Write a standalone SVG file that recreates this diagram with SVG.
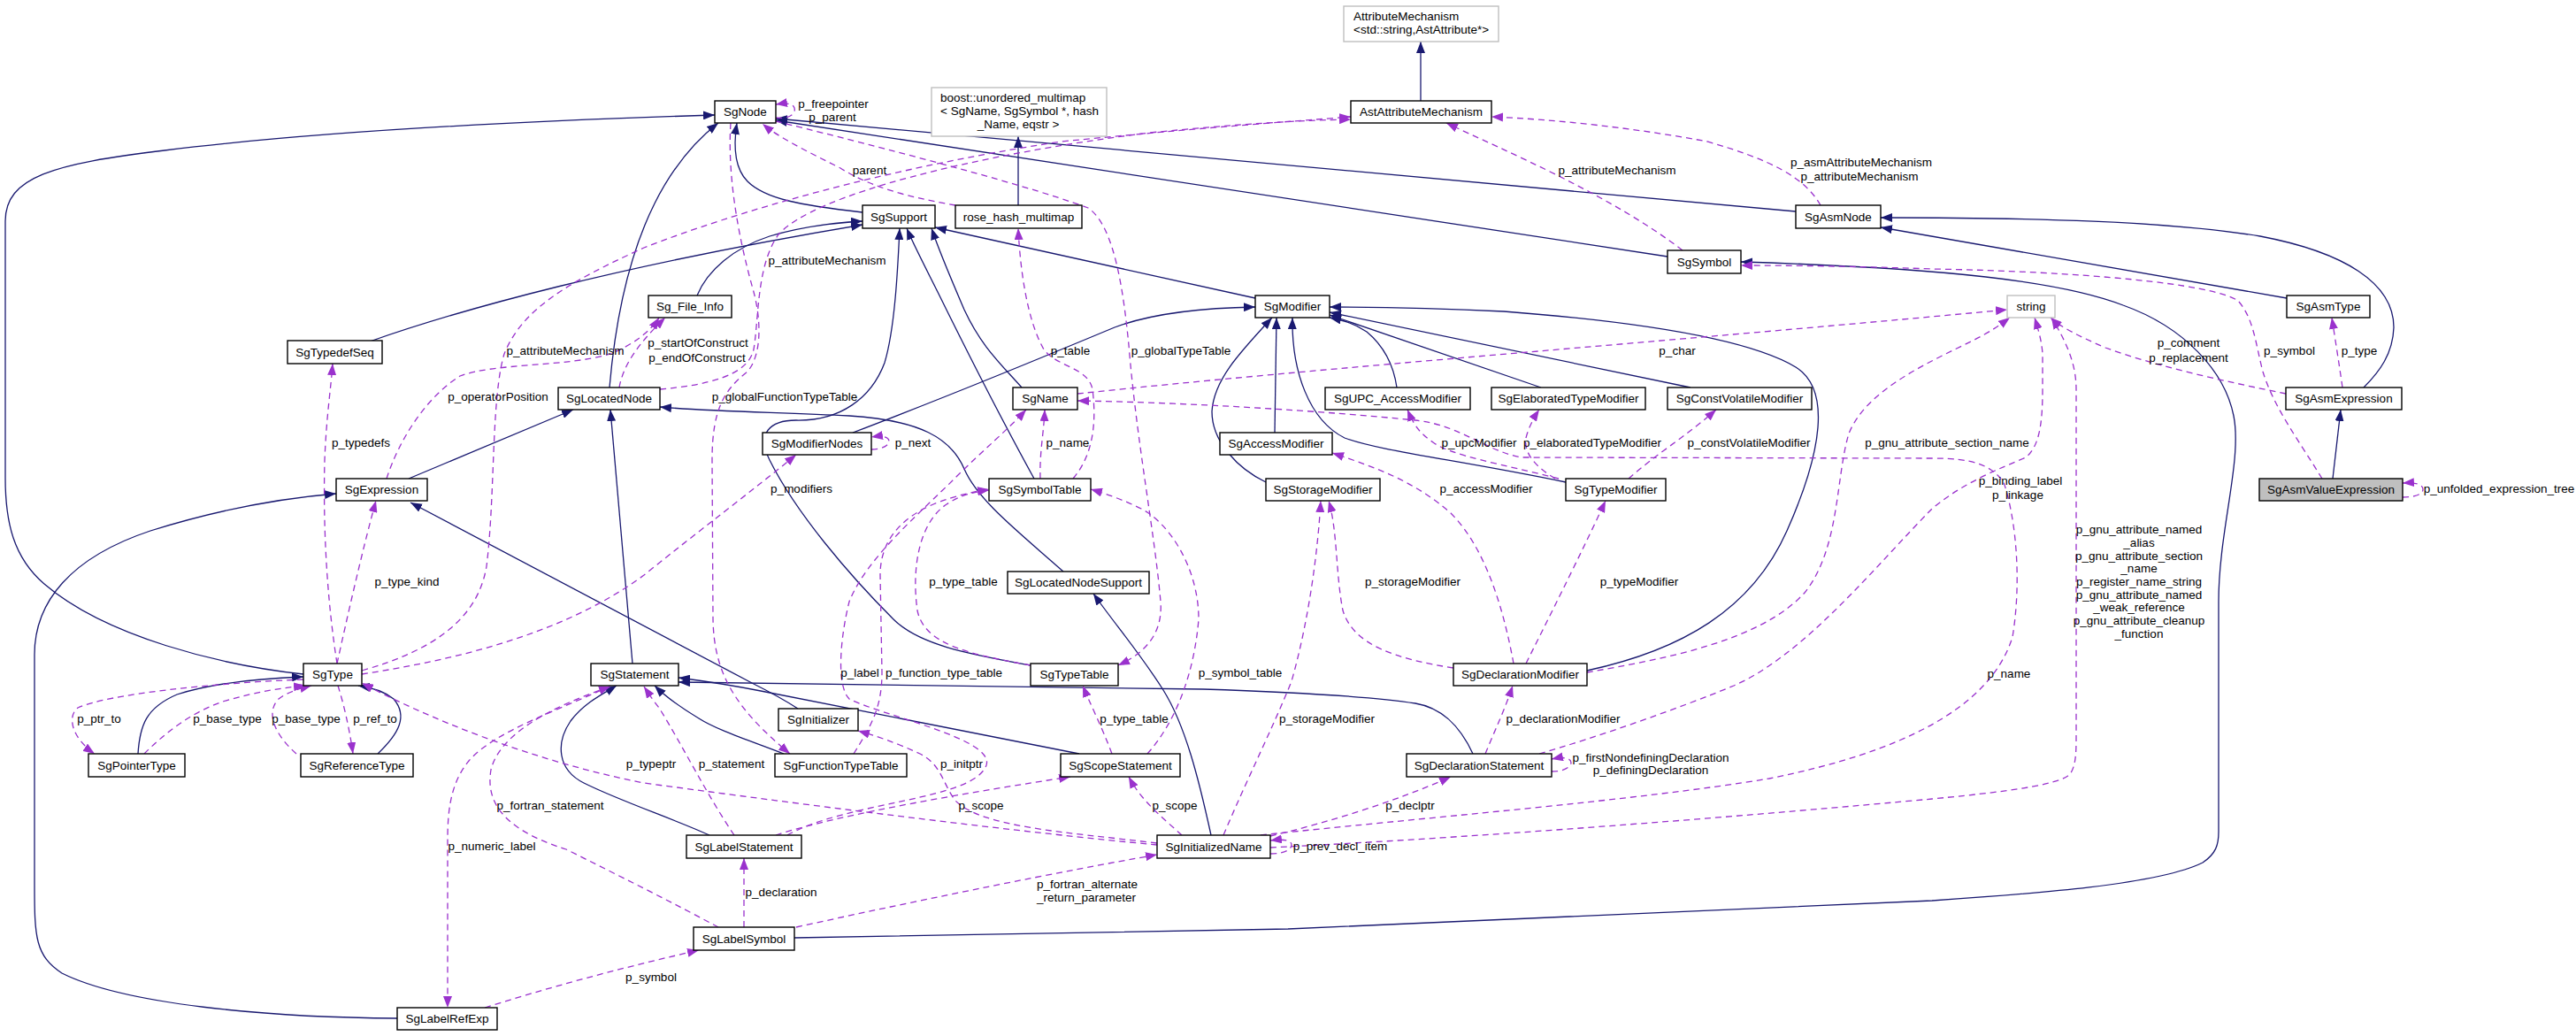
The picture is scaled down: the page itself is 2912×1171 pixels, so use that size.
<svg xmlns="http://www.w3.org/2000/svg" width="2912" height="1171" viewBox="0 0 2912 1171">
<style>
text{font-family:"Liberation Sans",Arial,sans-serif;font-size:13.5px;fill:#000}
.n rect{fill:#fff;stroke:#000;stroke-width:1.4}
.g rect{fill:#fff;stroke:#bfbfbf;stroke-width:1.4}
.h rect{fill:#bfbfbf;stroke:#000;stroke-width:1.4}
.n text,.h text,.c{text-anchor:middle}
.i{fill:none;stroke:#191970;stroke-width:1.3;marker-end:url(#ab)}
.u{fill:none;stroke:#9a32cd;stroke-width:1.3;stroke-dasharray:7,5;marker-end:url(#ap)}
.l{text-anchor:middle}
</style>
<defs>
<marker id="ab" viewBox="0 0 13 10" refX="13" refY="5" markerWidth="13" markerHeight="10" markerUnits="userSpaceOnUse" orient="auto"><path d="M0,0L13,5L0,10z" fill="#191970"/></marker>
<marker id="ap" viewBox="0 0 13 10" refX="13" refY="5" markerWidth="13" markerHeight="10" markerUnits="userSpaceOnUse" orient="auto"><path d="M0,0L13,5L0,10z" fill="#9a32cd"/></marker>
</defs>
<rect width="2912" height="1171" fill="#fff"/>
<g id="connectors">
<!-- inheritance -->
<path class="i" d="M1606,114 L1606,47"/>
<path class="i" d="M1151,232 L1151,154"/>
<path class="i" d="M975,240 C905,232 865,225 845,205 C830,190 829,165 833,139"/>
<path class="i" d="M689,438 C694,380 705,300 740,230 C760,190 785,160 812,139"/>
<path class="i" d="M343,762 C250,752 120,720 50,660 C15,630 6,590 6,540 L6,250 C6,200 60,185 186,170 C330,152 550,138 808,130"/>
<path class="i" d="M2030,239 L877,134"/>
<path class="i" d="M1885,290 L877,136"/>
<path class="i" d="M788,334 C800,305 830,280 870,267 C900,258 940,252 975,250"/>
<path class="i" d="M418,386 C520,350 700,300 975,254"/>
<path class="i" d="M1155,438 C1130,410 1109,391 1090,350 C1075,315 1062,285 1053,258"/>
<path class="i" d="M1169,541 C1130,470 1090,391 1060,330 C1045,300 1032,275 1025,258"/>
<path class="i" d="M1165,752 C1100,740 1040,730 1010,700 C960,650 900,580 870,520 C855,490 870,475 900,475 C950,476 985,450 1000,410 C1012,370 1015,300 1017,258"/>
<path class="i" d="M1419,337 L1057,257"/>
<path class="i" d="M964,489 C1080,445 1200,395 1260,370 C1300,355 1360,348 1419,347"/>
<path class="i" d="M1441,489 L1443,359"/>
<path class="i" d="M1431,545 C1400,530 1370,500 1370,465 C1372,430 1400,400 1438,359"/>
<path class="i" d="M1579,438 C1575,410 1563,390 1545,375 C1530,365 1518,362 1503,359"/>
<path class="i" d="M1742,438 L1503,356"/>
<path class="i" d="M1911,438 L1503,353"/>
<path class="i" d="M1770,545 C1650,520 1560,510 1520,495 C1480,475 1460,420 1461,359"/>
<path class="i" d="M1794,758 C1900,735 1980,690 2020,600 C2060,510 2070,440 2030,415 C1980,385 1870,365 1700,352 C1620,348 1560,347 1503,347"/>
<path class="i" d="M715,750 L690,463"/>
<path class="i" d="M462,541 L648,463"/>
<path class="i" d="M902,801 C885,790 870,782 850,772 L464,568"/>
<path class="i" d="M886,852 C850,838 810,825 790,812 C770,800 755,790 740,775"/>
<path class="i" d="M1220,852 L860,781 C820,773 790,769 767,766"/>
<path class="i" d="M1665,852 C1650,820 1630,800 1600,795 C1550,787 1450,782 1360,779 L767,771"/>
<path class="i" d="M802,944 C760,925 700,905 660,885 C630,870 628,840 645,815 C660,795 680,785 697,775"/>
<path class="i" d="M1369,944 C1355,880 1340,820 1315,780 C1290,740 1260,705 1236,671"/>
<path class="i" d="M1202,646 C1150,600 1105,565 1090,530 C1075,495 1040,475 960,470 C880,466 800,465 746,460"/>
<path class="i" d="M156,852 C158,820 165,800 200,785 C240,772 290,767 343,765"/>
<path class="i" d="M427,852 C450,830 462,810 445,790 C435,782 420,777 405,775"/>
<path class="i" d="M449,1151 C300,1150 140,1135 70,1100 C40,1080 39,1060 39,1000 L39,740 C39,680 80,630 170,600 C250,575 320,563 380,558"/>
<path class="i" d="M898,1060 L1456,1050 L2184,1018 C2300,1010 2440,1000 2490,975 C2505,965 2508,955 2508,940 L2508,680 C2508,600 2535,520 2525,470 C2515,420 2470,370 2400,345 C2330,318 2200,303 1968,296"/>
<path class="i" d="M2585,337 L2126,257"/>
<path class="i" d="M2672,438 C2690,420 2705,400 2706,370 C2706,320 2650,285 2555,267 C2450,250 2300,246 2126,246"/>
<path class="i" d="M2637,541 L2646,463"/>
<!-- usage -->
<path class="u" d="M877,133 C893,135 900,128 898,122 C896,117 890,116 877,118"/>
<path class="u" d="M1080,232 C1040,225 990,215 950,190 C910,170 880,155 862,140"/>
<path class="u" d="M746,440 C800,435 845,425 852,395 C858,360 855,300 880,265 C920,220 1100,175 1300,150 C1400,140 1470,136 1527,135"/>
<path class="u" d="M409,758 C490,735 540,700 550,640 C560,560 555,450 570,400 C590,350 640,320 728,280 C830,240 1000,190 1200,160 C1350,145 1450,138 1527,132"/>
<path class="u" d="M1902,283 C1820,220 1700,170 1635,139"/>
<path class="u" d="M2058,232 C2040,200 2000,180 1930,160 C1850,145 1760,135 1686,132"/>
<path class="u" d="M700,438 C705,410 725,385 752,359"/>
<path class="u" d="M437,541 C450,500 480,450 520,425 C560,410 640,415 690,400 C715,390 735,375 745,359"/>
<path class="u" d="M381,750 C370,680 365,600 367,520 C369,470 374,440 376,411"/>
<path class="u" d="M381,750 C392,700 410,620 425,566"/>
<path class="u" d="M409,762 C520,745 640,715 728,650 C790,600 850,555 900,514"/>
<path class="u" d="M985,508 C998,508 1005,503 1005,499 C1005,494 998,492 985,494"/>
<path class="u" d="M1218,445 C1500,415 1900,385 2269,350"/>
<path class="u" d="M1176,541 C1175,510 1180,490 1181,463"/>
<path class="u" d="M1213,541 C1235,515 1240,480 1235,440 C1230,415 1195,415 1180,395 C1160,360 1153,300 1151,258"/>
<path class="u" d="M1297,852 C1330,815 1350,760 1355,700 C1355,640 1320,590 1290,575 C1270,565 1250,558 1233,553"/>
<path class="u" d="M1257,852 C1245,820 1232,795 1224,775"/>
<path class="u" d="M1165,752 C1100,740 1045,730 1037,690 C1030,640 1040,590 1070,570 C1085,560 1100,556 1118,554"/>
<path class="u" d="M965,852 C985,820 997,800 997,760 L995,650 C995,610 1020,585 1055,570 C1080,560 1100,556 1118,553"/>
<path class="u" d="M890,944 C960,905 1100,905 1115,865 C1125,835 1000,810 960,790 C945,775 950,720 960,680 C980,630 1040,580 1080,540 C1110,510 1140,485 1160,463"/>
<path class="u" d="M690,775 C640,800 560,825 530,860 C505,890 506,930 506,960 L506,1139"/>
<path class="u" d="M812,1048 C760,1020 700,990 640,960 C560,935 550,900 555,870 C565,830 620,800 690,776"/>
<path class="u" d="M830,944 C800,900 770,840 745,800 C737,790 732,782 728,776"/>
<path class="u" d="M548,1139 C640,1110 720,1090 790,1074"/>
<path class="u" d="M841,1048 L841,970"/>
<path class="u" d="M900,1048 C1050,1015 1200,985 1308,966"/>
<path class="u" d="M877,944 C950,920 1100,895 1210,878"/>
<path class="u" d="M1336,944 C1315,925 1290,905 1276,878"/>
<path class="u" d="M1308,955 C1150,940 950,915 728,885 C600,860 480,810 409,772"/>
<path class="u" d="M1308,953 C1200,940 1110,935 1080,905 C1065,885 1065,865 1040,852 C1010,838 990,832 970,826"/>
<path class="u" d="M1383,944 C1410,880 1440,820 1460,770 C1480,700 1490,620 1493,566"/>
<path class="u" d="M1643,755 C1580,745 1530,730 1518,690 C1510,650 1512,600 1502,566"/>
<path class="u" d="M1711,750 C1700,690 1680,620 1640,580 C1600,545 1560,530 1506,512"/>
<path class="u" d="M1725,750 C1760,680 1790,620 1815,566"/>
<path class="u" d="M1762,541 C1700,525 1640,515 1620,500 C1605,490 1598,480 1591,463"/>
<path class="u" d="M1758,541 C1740,530 1722,515 1725,495 C1728,483 1734,472 1740,463"/>
<path class="u" d="M1841,541 C1870,515 1910,490 1940,463"/>
<path class="u" d="M1679,852 C1690,825 1702,800 1710,775"/>
<path class="u" d="M1436,945 C1500,930 1580,905 1640,878"/>
<path class="u" d="M1754,872 C1770,872 1776,866 1776,862 C1776,857 1768,855 1754,858"/>
<path class="u" d="M1436,965 C1452,965 1460,960 1460,955 C1460,950 1452,948 1436,950"/>
<path class="u" d="M1436,958 C1700,945 2000,920 2184,903 C2290,893 2330,885 2340,875 C2347,865 2347,850 2347,830 L2347,440 C2347,410 2335,385 2319,359"/>
<path class="u" d="M1425,944 C1600,925 1850,905 2000,880 C2150,850 2250,800 2275,720 C2285,660 2280,590 2265,545 C2250,525 2230,518 2184,518 L1720,517 C1680,510 1650,480 1600,475 C1500,465 1350,455 1218,453"/>
<path class="u" d="M1740,852 C1800,835 1900,800 1960,775 C2040,740 2120,640 2184,575 C2220,545 2260,530 2290,517 C2305,505 2309,480 2309,440 L2309,400 C2308,385 2304,372 2300,359"/>
<path class="u" d="M1794,760 C1880,745 1990,725 2040,670 C2080,620 2075,540 2090,490 C2110,440 2180,410 2230,385 C2250,375 2260,368 2272,359"/>
<path class="u" d="M2584,445 C2520,432 2440,415 2380,393 C2350,380 2330,370 2318,359"/>
<path class="u" d="M2648,438 C2644,410 2640,385 2636,359"/>
<path class="u" d="M2625,541 C2600,500 2570,460 2558,420 C2550,390 2548,360 2530,340 C2500,320 2350,307 2184,304 C2100,301 2030,300 1968,300"/>
<path class="u" d="M2716,562 C2732,562 2739,558 2739,553 C2739,548 2732,545 2716,546"/>
<path class="u" d="M826,139 C822,200 835,270 852,330 C860,360 862,400 845,420 C820,440 805,460 805,520 L806,700 C807,760 830,800 893,852"/>
<path class="u" d="M877,137 C950,155 1150,205 1230,235 C1260,255 1270,330 1276,390 C1285,500 1305,600 1312,680 C1315,720 1290,740 1264,752"/>
<path class="u" d="M343,768 C240,772 120,785 88,800 C75,810 82,835 107,852"/>
<path class="u" d="M163,852 C185,830 215,805 255,792 C290,782 315,778 345,775"/>
<path class="u" d="M335,852 C310,830 300,805 315,790 C325,782 340,778 352,775"/>
<path class="u" d="M382,775 C390,800 396,830 399,852"/>
<!-- labels -->
<text class="l" x="942" y="122">p_freepointer</text>
<text class="l" x="941" y="137">p_parent</text>
<text class="l" x="983" y="197">parent</text>
<text class="l" x="935" y="299">p_attributeMechanism</text>
<text class="l" x="1828" y="197">p_attributeMechanism</text>
<text class="l" x="2104" y="188">p_asmAttributeMechanism</text>
<text class="l" x="2102" y="204">p_attributeMechanism</text>
<text class="l" x="639" y="401">p_attributeMechanism</text>
<text class="l" x="789" y="392">p_startOfConstruct</text>
<text class="l" x="788" y="409">p_endOfConstruct</text>
<text class="l" x="563" y="453">p_operatorPosition</text>
<text class="l" x="408" y="505">p_typedefs</text>
<text class="l" x="460" y="662">p_type_kind</text>
<text class="l" x="887" y="453">p_globalFunctionTypeTable</text>
<text class="l" x="1210" y="401">p_table</text>
<text class="l" x="1335" y="401">p_globalTypeTable</text>
<text class="l" x="1032" y="505">p_next</text>
<text class="l" x="1207" y="505">p_name</text>
<text class="l" x="906" y="557">p_modifiers</text>
<text class="l" x="1089" y="662">p_type_table</text>
<text class="l" x="972" y="765">p_label</text>
<text class="l" x="1067" y="765">p_function_type_table</text>
<text class="l" x="1402" y="765">p_symbol_table</text>
<text class="l" x="1896" y="401">p_char</text>
<text class="l" x="1672" y="505">p_upcModifier</text>
<text class="l" x="1800" y="505">p_elaboratedTypeModifier</text>
<text class="l" x="1977" y="505">p_constVolatileModifier</text>
<text class="l" x="2201" y="505">p_gnu_attribute_section_name</text>
<text class="l" x="1680" y="557">p_accessModifier</text>
<text class="l" x="1597" y="662">p_storageModifier</text>
<text class="l" x="1853" y="662">p_typeModifier</text>
<text class="l" x="2474" y="392">p_comment</text>
<text class="l" x="2474" y="409">p_replacement</text>
<text class="l" x="2588" y="401">p_symbol</text>
<text class="l" x="2667" y="401">p_type</text>
<text class="l" x="2825" y="557">p_unfolded_expression_tree</text>
<text class="l" x="2284" y="548">p_binding_label</text>
<text class="l" x="2281" y="564">p_linkage</text>
<text class="l" x="2418" y="603">p_gnu_attribute_named</text>
<text class="l" x="2418" y="618">_alias</text>
<text class="l" x="2418" y="633">p_gnu_attribute_section</text>
<text class="l" x="2418" y="647">_name</text>
<text class="l" x="2418" y="662">p_register_name_string</text>
<text class="l" x="2418" y="677">p_gnu_attribute_named</text>
<text class="l" x="2418" y="691">_weak_reference</text>
<text class="l" x="2418" y="706">p_gnu_attribute_cleanup</text>
<text class="l" x="2418" y="721">_function</text>
<text class="l" x="2271" y="766">p_name</text>
<text class="l" x="112" y="817">p_ptr_to</text>
<text class="l" x="257" y="817">p_base_type</text>
<text class="l" x="346" y="817">p_base_type</text>
<text class="l" x="424" y="817">p_ref_to</text>
<text class="l" x="622" y="915">p_fortran_statement</text>
<text class="l" x="556" y="961">p_numeric_label</text>
<text class="l" x="736" y="868">p_typeptr</text>
<text class="l" x="827" y="868">p_statement</text>
<text class="l" x="1087" y="868">p_initptr</text>
<text class="l" x="1282" y="817">p_type_table</text>
<text class="l" x="1109" y="915">p_scope</text>
<text class="l" x="1328" y="915">p_scope</text>
<text class="l" x="1500" y="817">p_storageModifier</text>
<text class="l" x="883" y="1013">p_declaration</text>
<text class="l" x="1229" y="1004">p_fortran_alternate</text>
<text class="l" x="1228" y="1019">_return_parameter</text>
<text class="l" x="736" y="1109">p_symbol</text>
<text class="l" x="1767" y="817">p_declarationModifier</text>
<text class="l" x="1866" y="861">p_firstNondefiningDeclaration</text>
<text class="l" x="1866" y="875">p_definingDeclaration</text>
<text class="l" x="1594" y="915">p_declptr</text>
<text class="l" x="1515" y="961">p_prev_decl_item</text>
</g>
<g id="n_AttributeMechanism" class="g"><rect x="1519" y="7" width="175" height="40"/><text x="1530" y="23">AttributeMechanism</text><text x="1530" y="38">&lt;std::string,AstAttribute*&gt;</text></g>
<g id="n_AstAttributeMechanism" class="n"><rect x="1527" y="114" width="159" height="25"/><text x="1606.5" y="131">AstAttributeMechanism</text></g>
<g id="n_SgNode" class="n"><rect x="808" y="114" width="69" height="25"/><text x="842.5" y="131">SgNode</text></g>
<g id="n_boost" class="g"><rect x="1053" y="99" width="198" height="55"/><text x="1063" y="115">boost::unordered_multimap</text><text x="1063" y="130">&lt; SgName, SgSymbol *, hash</text><text x="1151" y="145" text-anchor="middle">_Name, eqstr &gt;</text></g>
<g id="n_SgSupport" class="n"><rect x="975" y="232" width="82" height="26"/><text x="1016" y="250">SgSupport</text></g>
<g id="n_rose_hash_multimap" class="n"><rect x="1080" y="232" width="143" height="26"/><text x="1151.5" y="250">rose_hash_multimap</text></g>
<g id="n_Sg_File_Info" class="n"><rect x="733" y="334" width="94" height="25"/><text x="780" y="351">Sg_File_Info</text></g>
<g id="n_SgModifier" class="n"><rect x="1419" y="334" width="84" height="25"/><text x="1461" y="351">SgModifier</text></g>
<g id="n_SgAsmNode" class="n"><rect x="2030" y="232" width="96" height="26"/><text x="2078" y="250">SgAsmNode</text></g>
<g id="n_SgSymbol" class="n"><rect x="1885" y="283" width="83" height="26"/><text x="1926.5" y="301">SgSymbol</text></g>
<g id="n_string" class="g"><rect x="2269" y="334" width="54" height="25"/><text x="2296" y="351" text-anchor="middle">string</text></g>
<g id="n_SgAsmType" class="n"><rect x="2585" y="334" width="94" height="25"/><text x="2632" y="351">SgAsmType</text></g>
<g id="n_SgTypedefSeq" class="n"><rect x="325" y="385" width="107" height="26"/><text x="378.5" y="403">SgTypedefSeq</text></g>
<g id="n_SgLocatedNode" class="n"><rect x="631" y="438" width="115" height="25"/><text x="688.5" y="455">SgLocatedNode</text></g>
<g id="n_SgName" class="n"><rect x="1145" y="438" width="73" height="25"/><text x="1181.5" y="455">SgName</text></g>
<g id="n_SgUPC_AccessModifier" class="n"><rect x="1498" y="438" width="164" height="25"/><text x="1580" y="455">SgUPC_AccessModifier</text></g>
<g id="n_SgElaboratedTypeModifier" class="n"><rect x="1686" y="438" width="174" height="25"/><text x="1773" y="455">SgElaboratedTypeModifier</text></g>
<g id="n_SgConstVolatileModifier" class="n"><rect x="1885" y="438" width="163" height="25"/><text x="1966.5" y="455">SgConstVolatileModifier</text></g>
<g id="n_SgAsmExpression" class="n"><rect x="2584" y="438" width="131" height="25"/><text x="2649.5" y="455">SgAsmExpression</text></g>
<g id="n_SgModifierNodes" class="n"><rect x="862" y="489" width="123" height="25"/><text x="923.5" y="506">SgModifierNodes</text></g>
<g id="n_SgAccessModifier" class="n"><rect x="1379" y="489" width="127" height="25"/><text x="1442.5" y="506">SgAccessModifier</text></g>
<g id="n_SgExpression" class="n"><rect x="380" y="541" width="103" height="25"/><text x="431.5" y="558">SgExpression</text></g>
<g id="n_SgSymbolTable" class="n"><rect x="1118" y="541" width="115" height="25"/><text x="1175.5" y="558">SgSymbolTable</text></g>
<g id="n_SgStorageModifier" class="n"><rect x="1431" y="541" width="129" height="25"/><text x="1495.5" y="558">SgStorageModifier</text></g>
<g id="n_SgTypeModifier" class="n"><rect x="1770" y="541" width="113" height="25"/><text x="1826.5" y="558">SgTypeModifier</text></g>
<g id="n_SgAsmValueExpression" class="h"><rect x="2554" y="541" width="162" height="25"/><text x="2635" y="558">SgAsmValueExpression</text></g>
<g id="n_SgLocatedNodeSupport" class="n"><rect x="1139" y="646" width="160" height="25"/><text x="1219" y="663">SgLocatedNodeSupport</text></g>
<g id="n_SgType" class="n"><rect x="343" y="750" width="66" height="25"/><text x="376" y="767">SgType</text></g>
<g id="n_SgStatement" class="n"><rect x="668" y="750" width="99" height="25"/><text x="717.5" y="767">SgStatement</text></g>
<g id="n_SgTypeTable" class="n"><rect x="1165" y="750" width="99" height="25"/><text x="1214.5" y="767">SgTypeTable</text></g>
<g id="n_SgDeclarationModifier" class="n"><rect x="1643" y="750" width="151" height="25"/><text x="1718.5" y="767">SgDeclarationModifier</text></g>
<g id="n_SgInitializer" class="n"><rect x="880" y="801" width="90" height="25"/><text x="925" y="818">SgInitializer</text></g>
<g id="n_SgPointerType" class="n"><rect x="100" y="852" width="109" height="26"/><text x="154.5" y="870">SgPointerType</text></g>
<g id="n_SgReferenceType" class="n"><rect x="340" y="852" width="127" height="26"/><text x="403.5" y="870">SgReferenceType</text></g>
<g id="n_SgFunctionTypeTable" class="n"><rect x="876" y="852" width="149" height="26"/><text x="950.5" y="870">SgFunctionTypeTable</text></g>
<g id="n_SgScopeStatement" class="n"><rect x="1199" y="852" width="135" height="26"/><text x="1266.5" y="870">SgScopeStatement</text></g>
<g id="n_SgDeclarationStatement" class="n"><rect x="1590" y="852" width="164" height="26"/><text x="1672" y="870">SgDeclarationStatement</text></g>
<g id="n_SgLabelStatement" class="n"><rect x="776" y="944" width="130" height="26"/><text x="841" y="962">SgLabelStatement</text></g>
<g id="n_SgInitializedName" class="n"><rect x="1308" y="944" width="128" height="26"/><text x="1372" y="962">SgInitializedName</text></g>
<g id="n_SgLabelSymbol" class="n"><rect x="784" y="1048" width="114" height="26"/><text x="841" y="1066">SgLabelSymbol</text></g>
<g id="n_SgLabelRefExp" class="n"><rect x="449" y="1139" width="113" height="25"/><text x="505.5" y="1156">SgLabelRefExp</text></g>
</svg>
